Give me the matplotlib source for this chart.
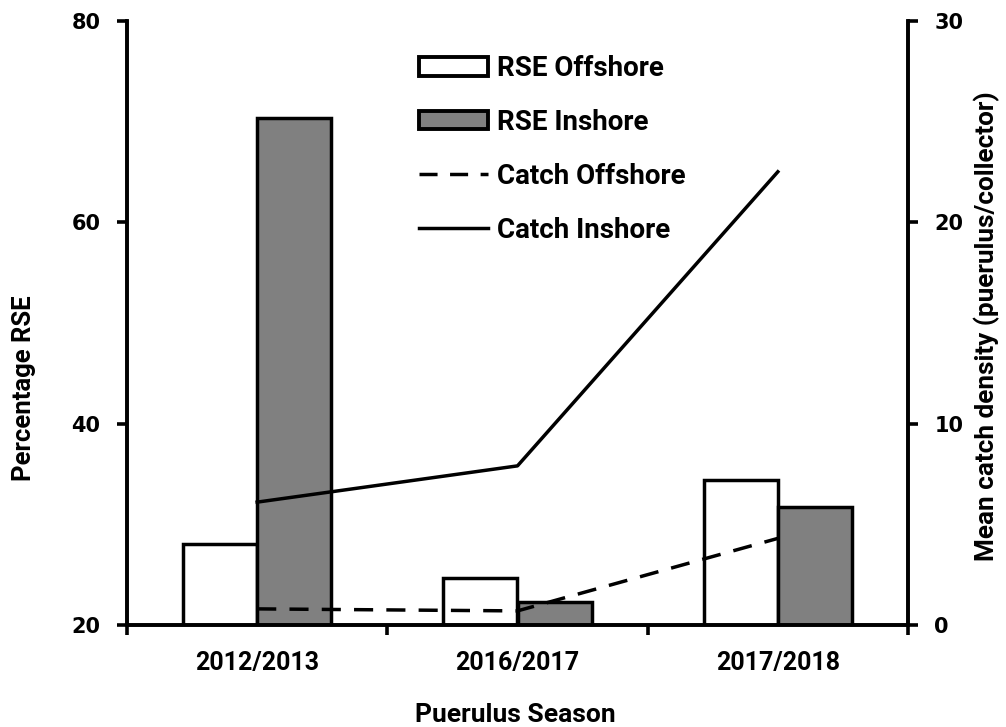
import matplotlib
matplotlib.use("Agg")
import matplotlib.pyplot as plt
from matplotlib.patches import Patch
from matplotlib.lines import Line2D
import numpy as np

seasons = ["2012/2013", "2016/2017", "2017/2018"]
rse_offshore = [28.0, 24.7, 34.4]
rse_inshore = [70.3, 22.3, 31.7]
catch_offshore = [0.8, 0.7, 4.3]
catch_inshore = [6.1, 7.9, 22.5]

lab_font = ["Roboto", "DejaVu Sans"]
W, H = 1006, 727
L, R, T, B = 127, 908, 20.7, 625

fig = plt.figure(figsize=(W/100, H/100), dpi=100)
ax = fig.add_axes([L/W, (H-B)/H, (R-L)/W, (B-T)/H])
ax2 = ax.twinx()

x = np.arange(len(seasons))
w = 0.285
ax.bar(x - w/2, rse_offshore, width=w, bottom=0, color="white", edgecolor="black", linewidth=2.5, zorder=2)
ax.bar(x + w/2, rse_inshore, width=w, bottom=0, color="#808080", edgecolor="black", linewidth=2.5, zorder=2)
ax.set_ylim(20, 80)
ax.set_xlim(-0.5, 2.5)

ax2.plot(x, catch_offshore, color="black", lw=2.5, dashes=(5.5, 3.8))
ax2.plot(x, catch_inshore, color="black", lw=2.5)
ax2.set_ylim(0, 30)

for a in (ax, ax2):
    a.spines["top"].set_visible(False)
    for s in ("left", "right", "bottom"):
        a.spines[s].set_linewidth(2.6)

ax.set_yticks([20, 40, 60, 80])
ax2.set_yticks([0, 10, 20, 30])
for a in (ax, ax2):
    a.tick_params(axis="y", direction="out", length=7, width=2.6, labelsize=15, pad=12)
    for t in a.get_yticklabels():
        t.set_fontweight("bold")
        t.set_family("DejaVu Sans")

ax.set_xticks([-0.5, 0.5, 1.5, 2.5])
ax.set_xticklabels([])
ax.tick_params(axis="x", which="major", direction="out", length=7, width=2.6)
ax.set_xticks(x, minor=True)
ax.set_xticklabels(seasons, minor=True, fontsize=18, fontweight="bold", family=lab_font)
ax.tick_params(axis="x", which="minor", length=0, pad=19)

fig.text(24/W, 1 - 388/H, "Percentage RSE", rotation=90, ha="center", va="center",
         fontsize=18.5, fontweight="bold", family=lab_font)
fig.text(987/W, 1 - 326/H, "Mean catch density (puerulus/collector)", rotation=90,
         ha="center", va="center", fontsize=18.8, fontweight="bold", family=lab_font)
fig.text(515/W, 1 - 715/H, "Puerulus Season", ha="center", va="center",
         fontsize=19, fontweight="bold", family=lab_font)

handles = [
    Patch(facecolor="white", edgecolor="black", linewidth=2.8),
    Patch(facecolor="#808080", edgecolor="black", linewidth=2.8),
    Line2D([], [], color="black", lw=2.5, dashes=(5.2, 3.6)),
    Line2D([], [], color="black", lw=2.5),
]
labels = ["RSE Offshore", "RSE Inshore", "Catch Offshore", "Catch Inshore"]
fig.legend(handles, labels, loc="upper left", bbox_to_anchor=(419/W, 1 - 55/H),
           frameon=False, prop={"family": lab_font, "weight": "bold", "size": 20},
           handlelength=2.48, handleheight=0.65, handletextpad=0.32, labelspacing=0.97,
           borderpad=0, borderaxespad=0)

fig.savefig("out.png", dpi=100)
